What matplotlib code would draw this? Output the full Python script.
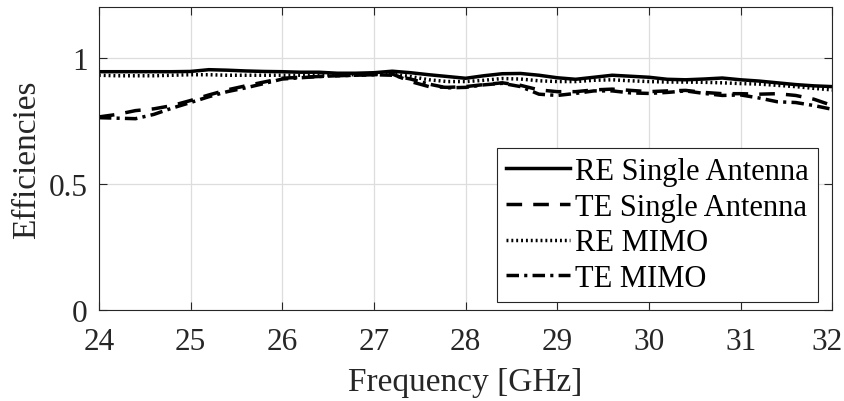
import matplotlib
matplotlib.use("Agg")
import matplotlib.pyplot as plt
import matplotlib.transforms as mtransforms
import numpy as np

freq = [24.0, 24.2, 24.4, 24.6, 24.8, 25.0, 25.2, 25.4, 25.6, 25.8, 26.0, 26.2, 26.4, 26.6, 26.8,
        27.0, 27.2, 27.4, 27.6, 27.8, 28.0, 28.2, 28.4, 28.6, 28.8, 29.0, 29.2, 29.4, 29.6, 29.8,
        30.0, 30.2, 30.4, 30.6, 30.8, 31.0, 31.2, 31.4, 31.6, 31.8, 32.0]

re_single = [0.944, 0.944, 0.944, 0.944, 0.944, 0.945, 0.952, 0.950, 0.947, 0.945, 0.944, 0.942, 0.942,
             0.938, 0.938, 0.940, 0.946, 0.940, 0.932, 0.925, 0.918, 0.928, 0.936, 0.937, 0.930, 0.920,
             0.914, 0.922, 0.930, 0.926, 0.922, 0.914, 0.912, 0.915, 0.919, 0.912, 0.907, 0.900, 0.893,
             0.888, 0.885]

te_single = [0.765, 0.775, 0.790, 0.797, 0.810, 0.830, 0.852, 0.872, 0.888, 0.903, 0.918, 0.922, 0.925,
             0.928, 0.930, 0.932, 0.935, 0.905, 0.885, 0.882, 0.885, 0.893, 0.900, 0.890, 0.872, 0.865,
             0.865, 0.872, 0.875, 0.870, 0.865, 0.868, 0.870, 0.862, 0.857, 0.857, 0.855, 0.857, 0.850,
             0.835, 0.810]

re_mimo = [0.930, 0.928, 0.928, 0.928, 0.930, 0.932, 0.932, 0.930, 0.930, 0.930, 0.930, 0.930, 0.930,
           0.932, 0.932, 0.935, 0.935, 0.925, 0.912, 0.905, 0.905, 0.910, 0.917, 0.915, 0.908, 0.905,
           0.905, 0.910, 0.912, 0.908, 0.905, 0.903, 0.903, 0.902, 0.900, 0.897, 0.895, 0.890, 0.885,
           0.878, 0.872]

te_mimo = [0.762, 0.760, 0.758, 0.775, 0.800, 0.822, 0.845, 0.865, 0.880, 0.897, 0.915, 0.920, 0.925,
           0.928, 0.930, 0.932, 0.930, 0.915, 0.895, 0.880, 0.882, 0.892, 0.898, 0.885, 0.855, 0.850,
           0.858, 0.868, 0.868, 0.860, 0.858, 0.862, 0.868, 0.858, 0.850, 0.852, 0.840, 0.825, 0.822,
           0.810, 0.795]

labels = ["RE Single Antenna", "TE Single Antenna", "RE MIMO", "TE MIMO"]

plt.rcParams['font.family'] = ['Liberation Serif', 'DejaVu Serif']

fig = plt.figure(figsize=(8.45, 4.02), dpi=100)
ax = fig.add_axes([0.117, 0.226, 0.868, 0.754])

lw = 2.5
ax.plot(freq, re_single, color='black', lw=lw, linestyle='-', label=labels[0])
ax.plot(freq, te_single, color='black', lw=lw, linestyle=(0, (4.5, 3.2)), label=labels[1])
ax.plot(freq, re_mimo, color='black', lw=lw, linestyle=(0, (0.55, 0.85)), label=labels[2])
ax.plot(freq, te_mimo, color='black', lw=lw, linestyle=(0, (3.6, 1.5, 0.9, 1.5)), label=labels[3])

ax.set_xlim(24, 32)
ax.set_ylim(0, 1.2)
ax.set_xticks(np.arange(24, 33, 1))
ax.set_yticks([0, 0.5, 1])
ax.set_yticklabels(['0', '0.5', '1'])
ax.grid(True, color='#dddddd', lw=0.9)
ax.set_axisbelow(True)
ax.tick_params(axis='both', direction='in', length=6, width=0.8, top=True, right=True,
               labelsize=22.5, colors='#262626')
ax.tick_params(axis='x', pad=12)
ax.tick_params(axis='y', pad=8)
for sp in ax.spines.values():
    sp.set_color('#262626')
    sp.set_linewidth(0.8)
ax.set_xlabel('Frequency [GHz]', fontsize=24, color='#262626', labelpad=8)
ax.set_ylabel('Efficiencies', fontsize=24, color='#262626', labelpad=5)

# nudge the last x tick label inward so it fits within the figure
last = ax.get_xticklabels()[-1]
last.set_transform(last.get_transform() + mtransforms.ScaledTranslation(-0.05, 0, fig.dpi_scale_trans))

leg = ax.legend(loc='lower right', bbox_to_anchor=(0.98, 0.026), fontsize=22, frameon=True,
                fancybox=False, edgecolor='#262626', framealpha=1, handlelength=2.1,
                handletextpad=0.15, labelspacing=0.22, borderpad=0.3, borderaxespad=0)
leg.get_frame().set_linewidth(0.8)

fig.savefig('out.png', dpi=100)
